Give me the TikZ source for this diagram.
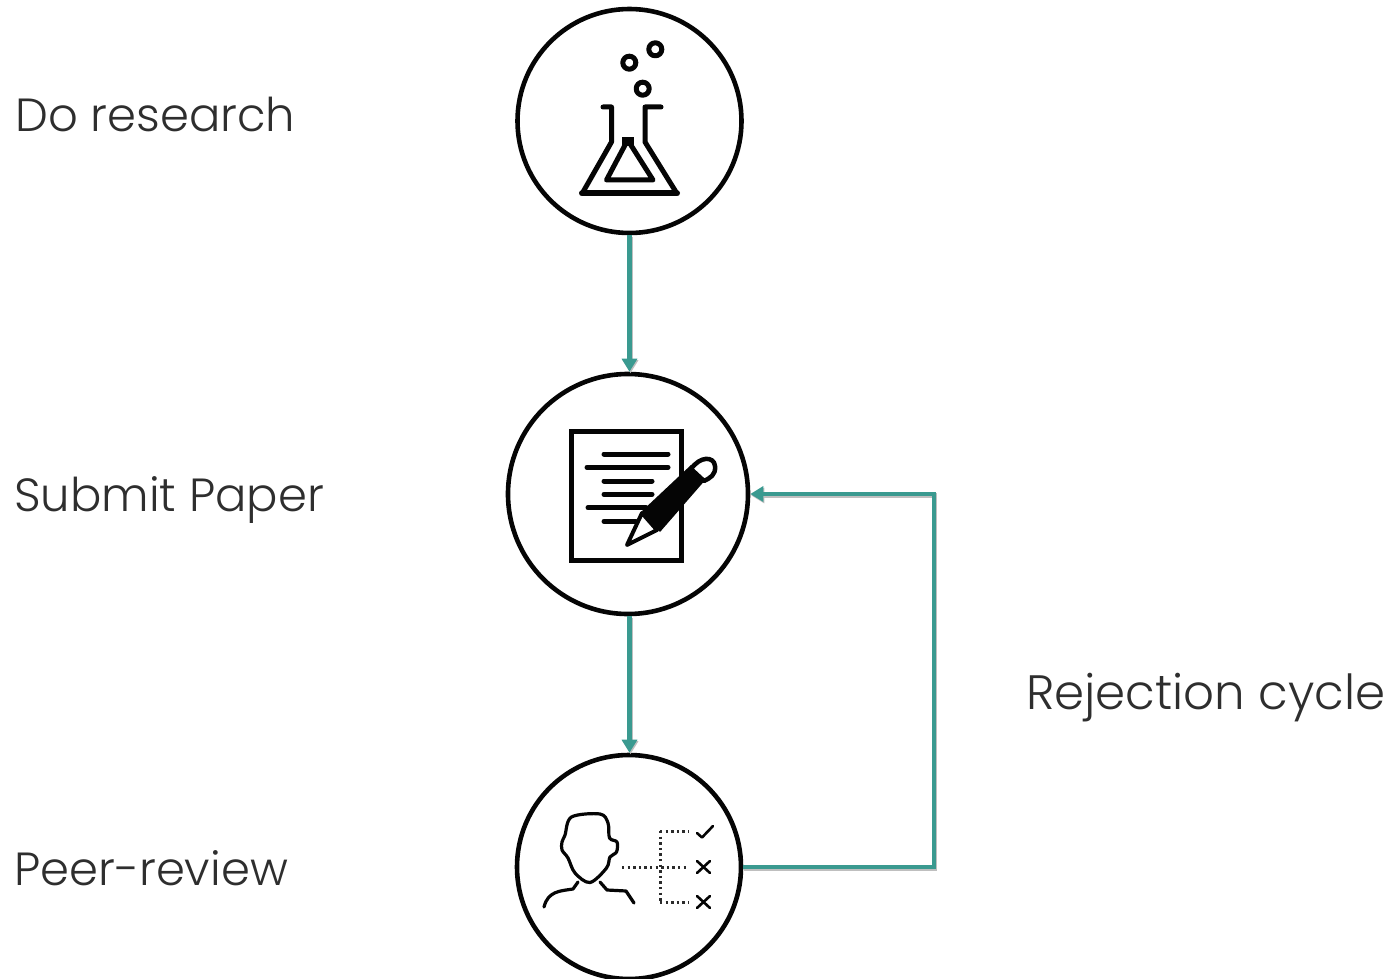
\documentclass[tikz,border=0pt]{standalone}
\usepackage{fontspec}
\setmainfont{Poppins Light}
\usetikzlibrary{arrows.meta}
\definecolor{teal1}{HTML}{3A9A90}
\definecolor{ink}{HTML}{050505}
\tikzset{
  stage/.style={circle,draw=ink,line width=4.6pt,inner sep=0pt,fill=white},
  lab/.style={anchor=base west,inner sep=0pt,text=black!82,font=\fontsize{46.5}{54}\selectfont},
  labw/.style={lab,font=\fontsize{48.3}{56}\selectfont},
  conn/.style={draw=teal1,line width=4.4pt,-{Triangle[length=13pt,width=15pt]},preaction={draw=black!25,line width=4.4pt,transform canvas={xshift=1pt,yshift=-1.5pt},-{Triangle[length=13pt,width=15pt]}}},
  icon/.style={draw=ink,line cap=round,line join=round},
  dots/.style={draw=ink!85,line width=3pt,dash pattern=on 2.4pt off 3.2pt}
}
\begin{document}
\begin{tikzpicture}[x=1pt,y=-1pt]
\useasboundingbox (0,0) rectangle (1393,979);
\node[stage,minimum size=224pt] (research) at (629.5,121) {};
\node[stage,minimum size=240pt] (submit) at (628,494) {};
\node[stage,minimum size=224pt] (review) at (629,867) {};
\node[lab] (t1) at (15,131.5) {Do research};
\node[lab] (t2) at (14,511.5) {Submit Paper};
\node[lab] (t3) at (14,885) {Peer-review};
\node[labw] (t4) at (1026,709) {Rejection cycle};
\coordinate (up) at (934,867);
\coordinate (upb) at (934,494);
\draw[conn] (research.south) -- (submit.north -| research.south);
\draw[conn] (submit.south -| research.south) -- (review.north -| research.south);
\draw[conn] (review.east) -- (up) -- (upb) -- (submit.east);
% flask
\begin{scope}[icon,line width=5pt]
\draw (629.3,62.7) circle (6.5);
\draw (655.3,49.3) circle (6.5);
\draw (642.7,88.7) circle (6.5);
\draw (603,107) -- (611.5,107) -- (611.5,142) -- (583,192);
\draw (661,107) -- (645,107) -- (645,142) -- (676,192);
\draw[line width=6pt] (582,193.5) -- (677,193.5);
\draw (627.7,140) -- (606.5,180) -- (653,180) -- cycle;
\fill[ink] (622,137) rectangle (633.5,146);
\end{scope}
% document
\draw[ink,line width=5pt] (571.7,431.7) rectangle (681,560);
\begin{scope}[draw=ink,line width=5pt,line cap=round]
\draw (604,454) -- (668,454);
\draw (587,467.3) -- (668,467.3);
\draw (604,481) -- (652,481);
\draw (604,494.3) -- (652,494.3);
\draw (588,507.7) -- (646,507.7);
\draw (604,521.3) -- (636,521.3);
\end{scope}
% pencil
\fill[white] (626,546) -- (641,513) -- (657,530) -- cycle;
\draw[ink,line width=4pt,line join=round] (627,545) -- (642,513) -- (657,530) -- cycle;
\fill[ink] (642,511) -- (691,465) -- (707,478) -- (660,532) -- cycle;
\draw[ink,line width=4.5pt,fill=white,line join=round] (691,469) .. controls (700,456) and (714,456) .. (715,466) .. controls (716,475) and (710,478) .. (704,481) -- cycle;
% person
\begin{scope}[icon,line width=3.2pt]
\draw plot[smooth cycle,tension=0.55] coordinates {(565,835) (571.5,817) (600,814) (608,823) (609.5,838) (617,842) (616.5,852) (610,857) (606.5,868) (590,882.5) (575,873) (568,858) (562,850) (562,842)};
\draw (578,882) -- (573,889) .. controls (560,891) and (548,891) .. (544,907);
\draw (600,882) -- (607,890) -- (626,891) -- (634,903);
\end{scope}
\begin{scope}[icon,line width=2.6pt]
\draw (697,833) -- (702,837.5) -- (713,826);
\draw (697,861) -- (710,873) (710,861) -- (697,873);
\draw (697,896) -- (710,908) (710,896) -- (697,908);
\end{scope}
\draw[dots] (622,867.3) -- (689,867.3);
\draw[dots] (660,831) -- (660,902);
\draw[dots] (660,831) -- (689,831);
\draw[dots] (660,902) -- (689,902);
\end{tikzpicture}
\end{document}
